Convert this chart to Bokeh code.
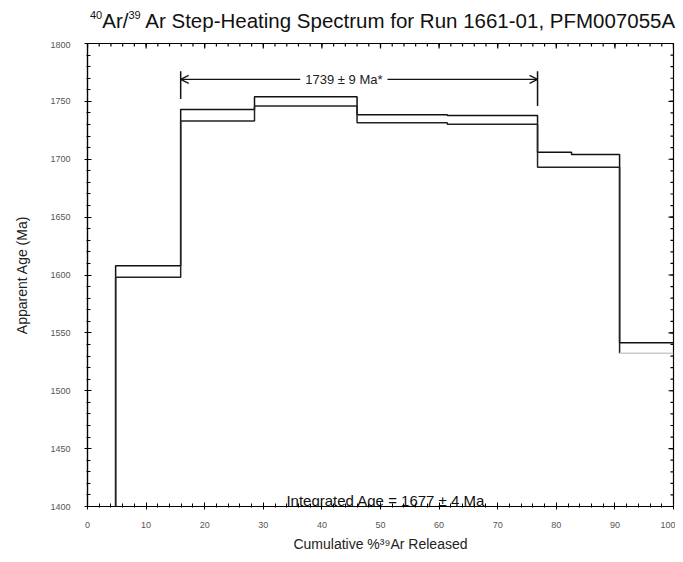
import math
from bokeh.plotting import figure
from bokeh.layouts import column
from bokeh.models import (Range1d, FixedTicker, Label, Arrow, OpenHead, Div)
from bokeh.embed import file_html
from bokeh.resources import INLINE

# ---- data ----
cum_pct = [0, 4.8, 15.9, 28.5, 46.0, 61.4, 76.8, 82.6, 90.8, 100]   # step boundaries, cumulative %39Ar
ages = [1250, 1603, 1738, 1750, 1735, 1734, 1699.5, 1698.5, 1537]    # apparent age (Ma)
errors = [5, 5, 5, 4, 3.5, 3.7, 6.5, 5.5, 4.5]                        # half-widths (Ma)
plateau_start, plateau_end = 15.9, 76.8
plateau_age, plateau_err = 1739, 9
integrated_age, integrated_err = 1677, 4
x_ticks = [0, 10, 20, 30, 40, 50, 60, 70, 80, 90, 100]
y_ticks = [1400, 1450, 1500, 1550, 1600, 1650, 1700, 1750, 1800]
x_minor = list(range(0, 101, 2))
y_minor = list(range(1400, 1801, 10))
run_id, sample_id = "1661-01", "PFM007055A"

FONT = "Liberation Sans"
TITLE_H = 41
X0, X1, Y0, Y1 = 0, 100, 1400, 1800

sup = '<span style="font-size:11px;position:relative;top:-9px;">{}</span>'
title = Div(text=(sup.format("40") + "Ar/" + sup.format("39")
                  + f" Ar Step-Heating Spectrum for Run {run_id}, {sample_id}"),
            width=675, height=TITLE_H, margin=0,
            styles={"font-family": FONT, "font-size": "20.5px", "line-height": f"{TITLE_H}px",
                    "color": "#111111", "padding-left": "90px", "white-space": "nowrap"})

p = figure(width=675, height=554 - TITLE_H, output_backend="svg", toolbar_location=None,
           x_range=Range1d(X0, X1), y_range=Range1d(Y0, Y1),
           min_border_left=87, min_border_right=2, min_border_top=2, min_border_bottom=46,
           x_axis_label="Cumulative %\u00b3\u2079Ar Released", y_axis_label="Apparent Age (Ma)")
p.margin = 0
p.xgrid.visible = False
p.ygrid.visible = False
p.outline_line_color = "black"
p.outline_line_width = 1.2

for ax in (p.xaxis[0], p.yaxis[0]):
    ax.axis_line_color = "black"
    ax.axis_line_width = 1.2
    ax.major_tick_line_color = "black"
    ax.minor_tick_line_color = "black"
    ax.major_tick_in = 4
    ax.major_tick_out = 3
    ax.minor_tick_in = 3
    ax.minor_tick_out = 1
    ax.major_label_text_font = FONT
    ax.major_label_text_font_size = "9px"
    ax.major_label_text_color = "#555555"
    ax.axis_label_text_font = FONT
    ax.axis_label_text_font_size = "14px"
    ax.axis_label_text_font_style = "normal"
    ax.axis_label_text_color = "#222222"

p.xaxis.ticker = FixedTicker(ticks=x_ticks, minor_ticks=x_minor)
p.yaxis.ticker = FixedTicker(ticks=y_ticks, minor_ticks=y_minor)
p.xaxis[0].major_label_standoff = 12
p.xaxis[0].axis_label_standoff = 5
p.yaxis[0].major_label_standoff = 14
p.yaxis[0].axis_label_standoff = 17

# ---- mirrored tick marks on the top and right frame edges ----
p.ray(x=x_minor, y=[Y1] * len(x_minor), length=3, length_units="screen",
      angle=-math.pi / 2, line_color="black", line_width=1.2)
p.ray(x=x_ticks, y=[Y1] * len(x_ticks), length=5, length_units="screen",
      angle=-math.pi / 2, line_color="black", line_width=1.2)
p.ray(x=[X1] * len(y_minor), y=y_minor, length=3, length_units="screen",
      angle=math.pi, line_color="black", line_width=1.2)
p.ray(x=[X1] * len(y_ticks), y=y_ticks, length=5, length_units="screen",
      angle=math.pi, line_color="black", line_width=1.2)

# ---- step spectrum: upper (age+err) and lower (age-err) step lines ----
upper = [a + e for a, e in zip(ages, errors)]
lower = [a - e for a, e in zip(ages, errors)]
p.step(cum_pct, upper + [upper[-1]], mode="after", line_color="#111111", line_width=1.5)
p.step(cum_pct[:-1], lower, mode="after", line_color="#222222", line_width=1.5)
p.segment(x0=[cum_pct[-2]], y0=[lower[-1]], x1=[cum_pct[-1]], y1=[lower[-1]],
          line_color="#cccccc", line_width=1.5)

# ---- plateau annotation ----
arrow_y = plateau_age + 30
p.segment(x0=[plateau_start, plateau_end], y0=[arrow_y + 7, arrow_y + 7],
          x1=[plateau_start, plateau_end], y1=[arrow_y - 17, arrow_y - 23],
          line_color="#111111", line_width=1.5)
p.add_layout(Arrow(x_start=(plateau_start + plateau_end) / 2, y_start=arrow_y,
                   x_end=plateau_start, y_end=arrow_y,
                   end=OpenHead(size=8, line_width=1.2, line_color="#111111"),
                   line_color="#111111", line_width=1.2))
p.add_layout(Arrow(x_start=(plateau_start + plateau_end) / 2, y_start=arrow_y,
                   x_end=plateau_end, y_end=arrow_y,
                   end=OpenHead(size=8, line_width=1.2, line_color="#111111"),
                   line_color="#111111", line_width=1.2))
p.add_layout(Label(x=(plateau_start + plateau_end) / 2 - 2.6, y=arrow_y,
                   text=f"{plateau_age} \u00b1 {plateau_err} Ma*",
                   text_align="center", text_baseline="middle",
                   text_font=FONT, text_font_size="13px", text_color="#222222",
                   background_fill_color="white", background_fill_alpha=1.0,
                   padding=5))

p.add_layout(Label(x=50.9, y=Y0, y_offset=6,
                   text=f"Integrated Age = {integrated_age} \u00b1 {integrated_err} Ma",
                   text_align="center", text_baseline="alphabetic",
                   text_font=FONT, text_font_size="15px", text_color="#111111"))

layout = column(title, p, spacing=0)
open("out.html", "w").write(file_html(layout, INLINE))
